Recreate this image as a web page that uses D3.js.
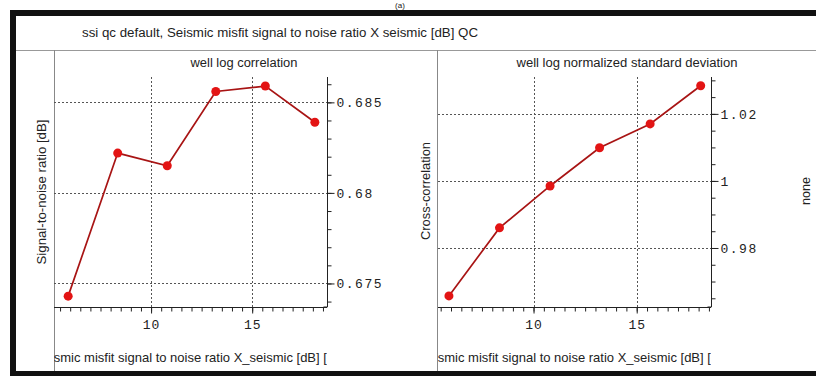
<!DOCTYPE html>
<html><head><meta charset="utf-8">
<script src="https://cdn.jsdelivr.net/npm/d3@7"></script>
<style>body{margin:0;background:#fff}svg{display:block}</style>
</head><body>
<script>
// ---- data ----
const xValues = [5.9, 8.35, 10.8, 13.2, 15.65, 18.1];
const correlationValues = [0.6743, 0.6822, 0.6815, 0.6856, 0.6859, 0.6839];
const stdDevValues = [0.9657, 0.986, 0.9985, 1.0099, 1.017, 1.0284];
const xTickLabels = [10, 15];
const corrTickLabels = [0.675, 0.68, 0.685];
const stdTickLabels = [0.98, 1, 1.02];
const mainTitle = "ssi  qc  default, Seismic misfit signal to noise ratio X  seismic [dB] QC";
const panelTitles = ["well log correlation", "well log normalized standard deviation"];
const xLabel = "Seismic misfit signal to noise ratio X_seismic [dB] [dB]";
const yLabels = ["Signal-to-noise ratio [dB]", "Cross-correlation"];
const extraLabel = "none";

const W = 816, H = 376;
const svg = d3.select("body").append("svg").attr("width", W).attr("height", H);
svg.append("rect").attr("width", W).attr("height", H).attr("fill", "#fff");

const mono = "Liberation Mono, DejaVu Sans Mono, monospace";
const sans = "Liberation Sans, Arial, sans-serif";

// caption fragment at very top
svg.append("text").attr("x", 400).attr("y", 8).attr("text-anchor", "middle").attr("font-family", sans)
  .attr("font-size", 8).attr("fill", "#222").text("(a)");

// frame
svg.append("rect").attr("x", 10).attr("y", 10).attr("width", W - 10).attr("height", 6).attr("fill", "#111");
svg.append("rect").attr("x", 10).attr("y", 10).attr("width", 6).attr("height", H - 10).attr("fill", "#111");
svg.append("rect").attr("x", 10).attr("y", 371).attr("width", W - 10).attr("height", 5).attr("fill", "#111");

// title row
svg.append("text").attr("x", 82).attr("y", 37).attr("font-family", sans)
  .attr("font-size", 12.5).attr("fill", "#222").attr("textLength", 396).attr("lengthAdjust", "spacingAndGlyphs")
  .text(mainTitle);
svg.append("line").attr("x1", 16).attr("x2", W).attr("y1", 50.5).attr("y2", 50.5).attr("stroke", "#999");

// panel dividers
svg.append("line").attr("x1", 54.5).attr("x2", 54.5).attr("y1", 50).attr("y2", 371).attr("stroke", "#888");
svg.append("line").attr("x1", 437.5).attr("x2", 437.5).attr("y1", 50).attr("y2", 371).attr("stroke", "#888");

const panels = [
  {x0: 54, x1: 327, xdom: [5.2, 18.7], ydom: [0.6737, 0.6864], vals: correlationValues, yt: corrTickLabels,
   minorStep: 0.001, fmt: d => d3.format(".3f")(d).replace(/0+$/, ""), title: panelTitles[0], tx: 244, tl: 107,
   ylab: yLabels[0], ylx: 46, yl: 145, ylc: 192, clipId: "c0"},
  {x0: 438, x1: 711, xdom: [5.37, 18.6], ydom: [0.9624, 1.031], vals: stdDevValues, yt: stdTickLabels,
   minorStep: 0.005, fmt: d => String(d), title: panelTitles[1], tx: 627, tl: 221,
   ylab: yLabels[1], ylx: 430, yl: 98, ylc: 191, clipId: "c1"}
];
const yTop = 77, yBot = 307;

panels.forEach(p => {
  const x = d3.scaleLinear().domain(p.xdom).range([p.x0, p.x1]);
  const y = d3.scaleLinear().domain(p.ydom).range([yBot, yTop]);
  const g = svg.append("g");

  // panel title
  g.append("text").attr("x", p.tx).attr("y", 67).attr("text-anchor", "middle")
    .attr("font-family", sans).attr("font-size", 12.5).attr("fill", "#222")
    .attr("textLength", p.tl).attr("lengthAdjust", "spacingAndGlyphs").text(p.title);

  // grid
  g.selectAll(".hg").data(p.yt).join("line")
    .attr("x1", p.x0).attr("x2", p.x1).attr("y1", d => Math.round(y(d)) + 0.5).attr("y2", d => Math.round(y(d)) + 0.5)
    .attr("stroke", "#555").attr("stroke-dasharray", "2,2");
  g.selectAll(".vg").data(xTickLabels).join("line")
    .attr("x1", d => Math.round(x(d)) + 0.5).attr("x2", d => Math.round(x(d)) + 0.5).attr("y1", yTop).attr("y2", yBot)
    .attr("stroke", "#555").attr("stroke-dasharray", "2,2");

  // x axis
  const xMinor = d3.range(Math.ceil(p.xdom[0] * 2) / 2, p.xdom[1], 0.5);
  const xa = d3.axisBottom(x).tickValues(xMinor).tickSize(4).tickFormat(() => "");
  const xg = g.append("g").attr("transform", `translate(0,${yBot + 0.5})`).call(xa);
  xg.select(".domain").attr("d", `M${p.x0},0H${p.x1}`).attr("stroke", "#222");
  xg.selectAll(".tick line").attr("stroke", "#222");
  const xM = d3.axisBottom(x).tickValues(xTickLabels).tickSize(6).tickPadding(6).tickFormat(d3.format("d"));
  const xg2 = g.append("g").attr("transform", `translate(0,${yBot + 0.5})`).call(xM);
  xg2.select(".domain").remove();
  xg2.selectAll(".tick line").attr("stroke", "#222");
  xg2.selectAll("text").attr("font-family", mono).attr("font-size", 13).attr("fill", "#222").attr("letter-spacing", 1);

  // y axis on right
  const yMinor = d3.range(Math.ceil(p.ydom[0] / p.minorStep) * p.minorStep, p.ydom[1], p.minorStep);
  const ya = d3.axisRight(y).tickValues(yMinor).tickSize(4).tickFormat(() => "");
  const yg = g.append("g").attr("transform", `translate(${p.x1 + 0.5},0)`).call(ya);
  yg.select(".domain").attr("d", `M0,${yTop}V${yBot}H-4`).attr("stroke", "#222").attr("fill", "none");
  yg.selectAll(".tick line").attr("stroke", "#222");
  const yM = d3.axisRight(y).tickValues(p.yt).tickSize(7).tickPadding(2).tickFormat(p.fmt);
  const yg2 = g.append("g").attr("transform", `translate(${p.x1 + 0.5},0)`).call(yM);
  yg2.select(".domain").remove();
  yg2.selectAll(".tick line").attr("stroke", "#222");
  yg2.selectAll("text").attr("font-family", mono).attr("font-size", 13).attr("fill", "#222").attr("letter-spacing", 1.5);

  // series
  const pts = xValues.map((xv, i) => [xv, p.vals[i]]);
  g.append("path").datum(pts)
    .attr("d", d3.line().x(d => x(d[0])).y(d => y(d[1])))
    .attr("fill", "none").attr("stroke", "#a81414").attr("stroke-width", 1.7);
  g.selectAll(".pt").data(pts).join("circle")
    .attr("cx", d => x(d[0])).attr("cy", d => y(d[1])).attr("r", 4.5).attr("fill", "#e31414");

  // x label, clipped to panel
  svg.append("clipPath").attr("id", p.clipId).append("rect")
    .attr("x", p.x0).attr("y", 330).attr("width", p.x1 - p.x0).attr("height", 40);
  g.append("text").attr("clip-path", `url(#${p.clipId})`)
    .attr("x", p.x0 - 19).attr("y", 362).attr("font-family", sans).attr("font-size", 13).attr("fill", "#222")
    .text(xLabel);

  // y label
  g.append("text").attr("transform", `translate(${p.ylx},${p.ylc}) rotate(-90)`).attr("text-anchor", "middle")
    .attr("font-family", sans).attr("font-size", 12.5).attr("fill", "#222")
    .attr("textLength", p.yl).attr("lengthAdjust", "spacingAndGlyphs").text(p.ylab);
});

svg.append("text").attr("transform", "translate(810,191) rotate(-90)").attr("text-anchor", "middle")
  .attr("font-family", sans).attr("font-size", 12.5).attr("fill", "#222").text(extraLabel);
</script>
</body></html>
